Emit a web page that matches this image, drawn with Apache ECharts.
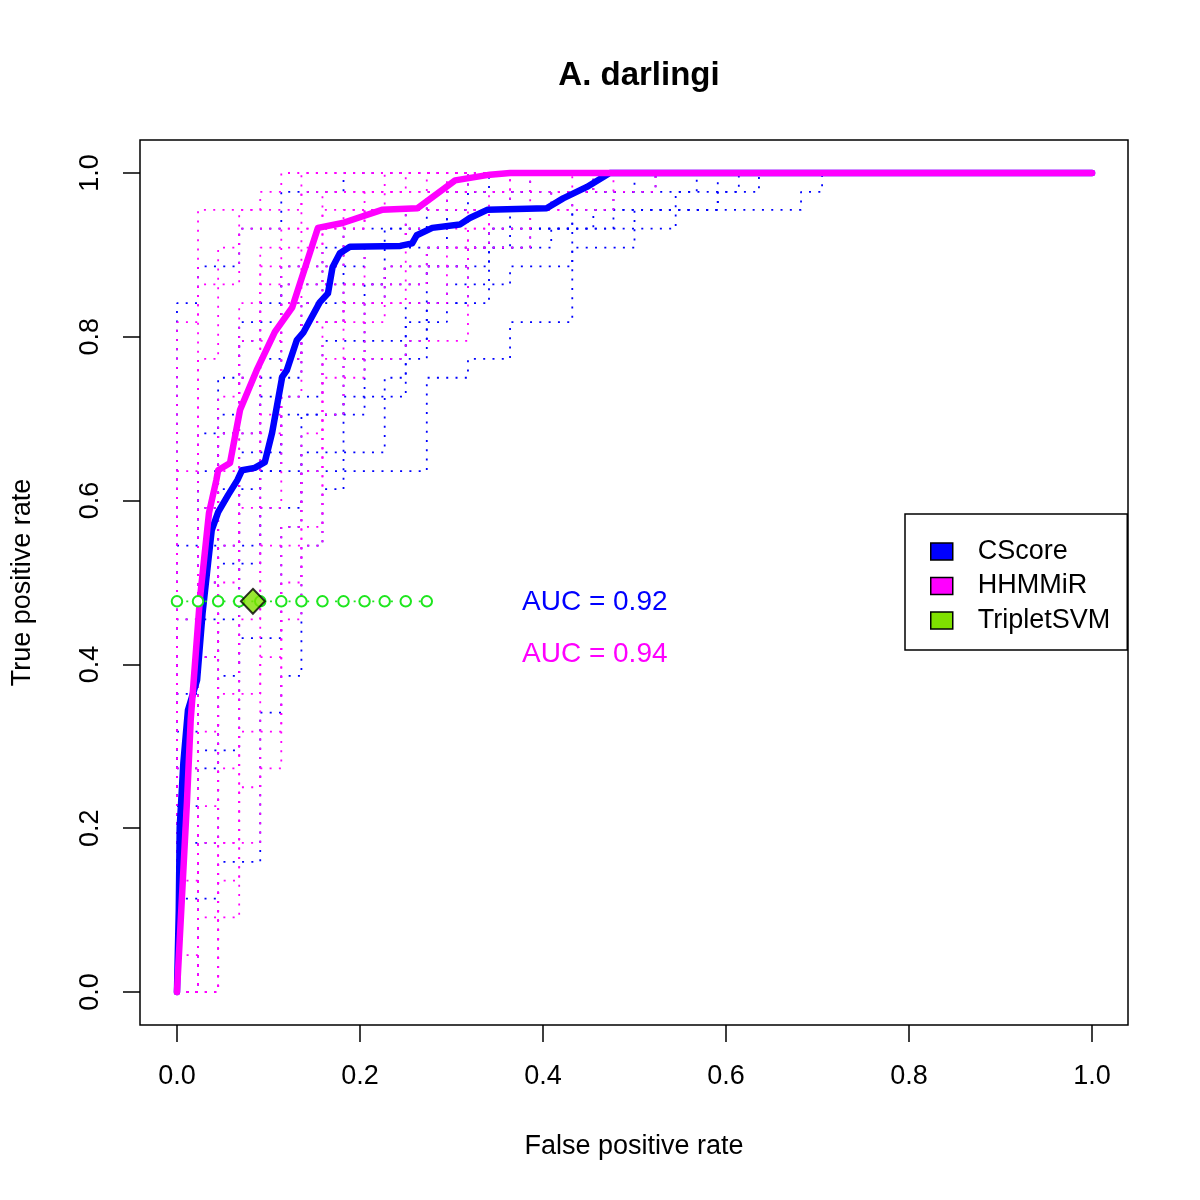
<!DOCTYPE html>
<html>
<head>
<meta charset="utf-8">
<script src="https://cdn.jsdelivr.net/npm/echarts@6/dist/echarts.min.js"></script>
<style>
html,body{margin:0;padding:0;background:#fff;}
#chart{width:1200px;height:1200px;}
</style>
</head>
<body>
<div id="chart"></div>
<script>
// ---------------- DATA ----------------
const chartTitle = 'A. darlingi';
const xAxisTitle = 'False positive rate';
const yAxisTitle = 'True positive rate';
const tickValues = [0, 0.2, 0.4, 0.6, 0.8, 1.0];
const legendNames = ['CScore', 'HHMMiR', 'TripletSVM'];
const aucLabels = ['AUC = 0.92', 'AUC = 0.94'];

// averaged ROC curves [FPR, TPR]
const cscoreMean = [[0,0],[0.002,0.1],[0.003,0.201],[0.007,0.28],[0.012,0.344],[0.022,0.381],[0.028,0.463],[0.034,0.524],[0.038,0.564],[0.045,0.586],[0.056,0.607],[0.066,0.625],[0.071,0.637],[0.085,0.64],[0.096,0.647],[0.104,0.683],[0.115,0.751],[0.12,0.759],[0.131,0.796],[0.138,0.805],[0.156,0.842],[0.165,0.853],[0.17,0.885],[0.178,0.902],[0.189,0.91],[0.244,0.911],[0.257,0.914],[0.262,0.924],[0.279,0.933],[0.309,0.937],[0.32,0.945],[0.339,0.955],[0.404,0.957],[0.422,0.969],[0.448,0.983],[0.473,1],[1,1]];
const hhmmirMean = [[0,0],[0.011,0.234],[0.015,0.332],[0.025,0.479],[0.035,0.585],[0.043,0.625],[0.045,0.637],[0.058,0.646],[0.069,0.711],[0.087,0.759],[0.107,0.806],[0.126,0.836],[0.154,0.933],[0.181,0.939],[0.224,0.955],[0.263,0.957],[0.304,0.991],[0.342,0.998],[0.364,1],[1,1]];

// per-fold ROC step curves (corner points) - HHMMiR
const hhFold1 = [[0,0],[0,0.818],[0.023,0.818],[0.023,0.955],[0.091,0.955],[0.091,0.977],[0.114,0.977],[0.114,1],[1,1]];
const hhFold2 = [[0,0],[0.045,0],[0.045,0.136],[0.068,0.136],[0.068,0.25],[0.091,0.25],[0.091,0.273],[0.114,0.273],[0.114,0.455],[0.136,0.455],[0.136,0.545],[0.159,0.545],[0.159,0.705],[0.182,0.705],[0.182,0.773],[0.25,0.773],[0.25,0.795],[0.318,0.795],[0.318,0.932],[0.386,0.932],[0.386,0.955],[0.477,0.955],[0.477,0.977],[0.523,0.977],[0.523,1],[1,1]];
const hhFold3 = [[0,0],[0,0.455],[0.023,0.455],[0.023,0.773],[0.045,0.773],[0.045,0.909],[0.068,0.909],[0.068,0.955],[0.136,0.955],[0.136,1],[1,1]];
const hhFold4 = [[0,0],[0.023,0],[0.023,0.227],[0.045,0.227],[0.045,0.545],[0.068,0.545],[0.068,0.75],[0.091,0.75],[0.091,0.864],[0.136,0.864],[0.136,0.932],[0.205,0.932],[0.205,0.977],[0.273,0.977],[0.273,1],[1,1]];
const hhFold5 = [[0,0],[0.023,0],[0.023,0.318],[0.045,0.318],[0.045,0.5],[0.068,0.5],[0.068,0.682],[0.114,0.682],[0.114,0.841],[0.159,0.841],[0.159,0.955],[0.227,0.955],[0.227,0.977],[0.318,0.977],[0.318,1],[1,1]];
const hhFold6 = [[0,0],[0,0.136],[0.023,0.136],[0.023,0.409],[0.045,0.409],[0.045,0.636],[0.091,0.636],[0.091,0.795],[0.114,0.795],[0.114,0.886],[0.182,0.886],[0.182,0.955],[0.295,0.955],[0.295,1],[1,1]];
const hhFold7 = [[0,0],[0.045,0],[0.045,0.273],[0.068,0.273],[0.068,0.455],[0.091,0.455],[0.091,0.591],[0.114,0.591],[0.114,0.727],[0.136,0.727],[0.136,0.864],[0.205,0.864],[0.205,0.909],[0.25,0.909],[0.25,0.955],[0.364,0.955],[0.364,1],[1,1]];
const hhFold8 = [[0,0],[0.023,0],[0.023,0.182],[0.068,0.182],[0.068,0.364],[0.091,0.364],[0.091,0.545],[0.136,0.545],[0.136,0.682],[0.159,0.682],[0.159,0.818],[0.227,0.818],[0.227,0.886],[0.318,0.886],[0.318,0.955],[0.409,0.955],[0.409,0.977],[0.455,0.977],[0.455,1],[1,1]];
const hhFold9 = [[0,0],[0,0.273],[0.023,0.273],[0.023,0.591],[0.045,0.591],[0.045,0.727],[0.068,0.727],[0.068,0.841],[0.091,0.841],[0.091,0.909],[0.159,0.909],[0.159,0.977],[0.227,0.977],[0.227,1],[1,1]];
const hhFold10 = [[0,0],[0.045,0],[0.045,0.091],[0.068,0.091],[0.068,0.318],[0.114,0.318],[0.114,0.5],[0.136,0.5],[0.136,0.636],[0.159,0.636],[0.159,0.773],[0.182,0.773],[0.182,0.841],[0.25,0.841],[0.25,0.932],[0.341,0.932],[0.341,0.977],[0.386,0.977],[0.386,1],[1,1]];
const hhFold11 = [[0,0],[0.023,0],[0.023,0.091],[0.045,0.091],[0.045,0.364],[0.068,0.364],[0.068,0.591],[0.091,0.591],[0.091,0.705],[0.114,0.705],[0.114,0.773],[0.136,0.773],[0.136,0.818],[0.182,0.818],[0.182,0.864],[0.273,0.864],[0.273,0.909],[0.341,0.909],[0.341,0.955],[0.432,0.955],[0.432,1],[1,1]];
const hhFold12 = [[0,0],[0,0.045],[0.023,0.045],[0.023,0.5],[0.045,0.5],[0.045,0.682],[0.068,0.682],[0.068,0.795],[0.091,0.795],[0.091,0.886],[0.114,0.886],[0.114,0.932],[0.205,0.932],[0.205,0.955],[0.273,0.955],[0.273,0.977],[0.364,0.977],[0.364,1],[1,1]];
const hhFold13 = [[0,0],[0.045,0],[0.045,0.182],[0.091,0.182],[0.091,0.409],[0.114,0.409],[0.114,0.568],[0.159,0.568],[0.159,0.75],[0.205,0.75],[0.205,0.841],[0.295,0.841],[0.295,0.909],[0.386,0.909],[0.386,0.977],[0.477,0.977],[0.477,1],[1,1]];
const hhFold14 = [[0,0],[0,0.636],[0.023,0.636],[0.023,0.864],[0.068,0.864],[0.068,0.932],[0.136,0.932],[0.136,0.977],[0.25,0.977],[0.25,1],[1,1]];

// per-fold ROC step curves (corner points) - CScore
const csFold1 = [[0,0],[0,0.841],[0.023,0.841],[0.023,0.886],[0.068,0.886],[0.068,0.932],[0.114,0.932],[0.114,0.977],[0.182,0.977],[0.182,1],[1,1]];
const csFold2 = [[0,0],[0,0.114],[0.045,0.114],[0.045,0.159],[0.091,0.159],[0.091,0.341],[0.114,0.341],[0.114,0.386],[0.136,0.386],[0.136,0.545],[0.159,0.545],[0.159,0.614],[0.182,0.614],[0.182,0.636],[0.273,0.636],[0.273,0.75],[0.318,0.75],[0.318,0.773],[0.364,0.773],[0.364,0.818],[0.432,0.818],[0.432,0.909],[0.5,0.909],[0.5,0.932],[0.545,0.932],[0.545,0.955],[0.591,0.955],[0.591,1],[1,1]];
const csFold3 = [[0,0],[0,0.227],[0.023,0.227],[0.023,0.5],[0.045,0.5],[0.045,0.682],[0.091,0.682],[0.091,0.773],[0.136,0.773],[0.136,0.841],[0.227,0.841],[0.227,0.886],[0.318,0.886],[0.318,0.909],[0.386,0.909],[0.386,0.932],[0.5,0.932],[0.5,0.955],[0.682,0.955],[0.682,0.977],[0.705,0.977],[0.705,1],[1,1]];
const csFold4 = [[0,0],[0.023,0],[0.023,0.295],[0.068,0.295],[0.068,0.432],[0.114,0.432],[0.114,0.568],[0.136,0.568],[0.136,0.659],[0.227,0.659],[0.227,0.75],[0.25,0.75],[0.25,0.841],[0.341,0.841],[0.341,0.932],[0.455,0.932],[0.455,0.955],[0.591,0.955],[0.591,0.977],[0.636,0.977],[0.636,1],[1,1]];
const csFold5 = [[0,0],[0,0.364],[0.023,0.364],[0.023,0.591],[0.045,0.591],[0.045,0.705],[0.068,0.705],[0.068,0.818],[0.114,0.818],[0.114,0.886],[0.205,0.886],[0.205,0.909],[0.295,0.909],[0.295,0.955],[0.409,0.955],[0.409,0.977],[0.523,0.977],[0.523,1],[1,1]];
const csFold6 = [[0,0],[0.023,0],[0.023,0.455],[0.045,0.455],[0.045,0.614],[0.091,0.614],[0.091,0.727],[0.159,0.727],[0.159,0.795],[0.205,0.795],[0.205,0.864],[0.273,0.864],[0.273,0.909],[0.364,0.909],[0.364,0.977],[0.455,0.977],[0.455,1],[1,1]];
const csFold7 = [[0,0],[0,0.182],[0.045,0.182],[0.045,0.386],[0.068,0.386],[0.068,0.545],[0.091,0.545],[0.091,0.636],[0.182,0.636],[0.182,0.727],[0.25,0.727],[0.25,0.818],[0.295,0.818],[0.295,0.864],[0.364,0.864],[0.364,0.886],[0.432,0.886],[0.432,0.955],[0.545,0.955],[0.545,0.977],[0.614,0.977],[0.614,1],[1,1]];
const csFold8 = [[0,0],[0,0.545],[0.023,0.545],[0.023,0.682],[0.068,0.682],[0.068,0.795],[0.091,0.795],[0.091,0.841],[0.159,0.841],[0.159,0.909],[0.25,0.909],[0.25,0.955],[0.318,0.955],[0.318,1],[1,1]];
const csFold9 = [[0,0],[0.023,0],[0.023,0.409],[0.045,0.409],[0.045,0.523],[0.091,0.523],[0.091,0.591],[0.136,0.591],[0.136,0.705],[0.182,0.705],[0.182,0.773],[0.273,0.773],[0.273,0.841],[0.318,0.841],[0.318,0.909],[0.409,0.909],[0.409,0.932],[0.477,0.932],[0.477,0.977],[0.568,0.977],[0.568,1],[1,1]];
const csFold10 = [[0,0],[0,0.273],[0.045,0.273],[0.045,0.455],[0.068,0.455],[0.068,0.636],[0.114,0.636],[0.114,0.75],[0.136,0.75],[0.136,0.818],[0.182,0.818],[0.182,0.932],[0.273,0.932],[0.273,0.977],[0.386,0.977],[0.386,1],[1,1]];
const csFold11 = [[0,0],[0,0.318],[0.023,0.318],[0.023,0.545],[0.068,0.545],[0.068,0.659],[0.114,0.659],[0.114,0.705],[0.205,0.705],[0.205,0.795],[0.273,0.795],[0.273,0.886],[0.341,0.886],[0.341,0.932],[0.432,0.932],[0.432,0.977],[0.5,0.977],[0.5,1],[1,1]];
const csFold12 = [[0,0],[0,0.455],[0.023,0.455],[0.023,0.636],[0.045,0.636],[0.045,0.75],[0.114,0.75],[0.114,0.864],[0.227,0.864],[0.227,0.932],[0.295,0.932],[0.295,0.977],[0.341,0.977],[0.341,1],[1,1]];

// TripletSVM per-fold single operating points and its mean
const tripletFolds = [[0,0.477],[0.023,0.477],[0.045,0.477],[0.068,0.477],[0.091,0.477],[0.114,0.477],[0.136,0.477],[0.159,0.477],[0.182,0.477],[0.205,0.477],[0.227,0.477],[0.25,0.477],[0.273,0.477]];
const tripletMean = [[0.083,0.477]];

// ---------------- STYLE ----------------
const BLUE = '#0000FF', MAGENTA = '#FF00FF', GREEN = '#1EE61E', LIME = '#7FE000';
const FONT = "'Liberation Sans', Arial, Helvetica, sans-serif";
const csFolds = [csFold1, csFold2, csFold3, csFold4, csFold5, csFold6, csFold7, csFold8, csFold9, csFold10, csFold11, csFold12];
const hhFolds = [hhFold1, hhFold2, hhFold3, hhFold4, hhFold5, hhFold6, hhFold7, hhFold8, hhFold9, hhFold10, hhFold11, hhFold12, hhFold13, hhFold14];

function foldSeries(name, data, color) {
  return {
    name: name, type: 'line', data: data, symbol: 'none', silent: true,
    lineStyle: { color: color, width: 1.8, type: [2, 7.3], cap: 'butt' },
    z: 2, animation: false
  };
}

const series = [];
csFolds.forEach(f => series.push(foldSeries('CScore', f, BLUE)));
hhFolds.forEach(f => series.push(foldSeries('HHMMiR', f, MAGENTA)));
series.push({
  name: 'CScore', type: 'line', data: cscoreMean, symbol: 'none', silent: true,
  lineStyle: { color: BLUE, width: 6.5, cap: 'round', join: 'round' }, z: 3, animation: false
});
series.push({
  name: 'HHMMiR', type: 'line', data: hhmmirMean, symbol: 'none', silent: true,
  lineStyle: { color: MAGENTA, width: 6.5, cap: 'round', join: 'round' }, z: 4, animation: false
});
series.push({
  name: 'TripletSVM', type: 'line', data: tripletFolds, symbol: 'emptyCircle', symbolSize: 10.5,
  silent: true, itemStyle: { color: GREEN, borderColor: GREEN, borderWidth: 2.3 },
  lineStyle: { color: GREEN, width: 1.8, type: [2, 7.3], cap: 'butt' }, z: 5, animation: false
});
series.push({
  name: 'TripletSVM', type: 'scatter', data: tripletMean, symbol: 'diamond', symbolSize: [24, 25],
  silent: true, itemStyle: { color: LIME, borderColor: '#000', borderWidth: 2 }, z: 6, animation: false
});

const chart = echarts.init(document.getElementById('chart'), null, { renderer: 'canvas' });
chart.setOption({
  backgroundColor: '#fff',
  animation: false,
  title: {
    text: chartTitle, left: 634, top: 54, textAlign: 'center',
    textStyle: { fontFamily: FONT, fontSize: 33, fontWeight: 'bold', color: '#000' }
  },
  grid: { left: 140, top: 140, width: 988, height: 885, show: true, borderColor: '#000', borderWidth: 1.5, backgroundColor: 'transparent', containLabel: false },
  xAxis: {
    type: 'value', min: -0.0404, max: 1.0393,
    name: xAxisTitle, nameLocation: 'middle', nameGap: 108,
    nameTextStyle: { fontFamily: FONT, fontSize: 27, color: '#000' },
    axisLine: { show: false, onZero: false },
    splitLine: { show: false },
    axisTick: { show: true, inside: false, length: 17, customValues: tickValues, lineStyle: { color: '#000', width: 1.5 } },
    axisLabel: { show: true, customValues: tickValues, margin: 38, fontFamily: FONT, fontSize: 27, color: '#000',
      formatter: v => v.toFixed(1) }
  },
  yAxis: {
    type: 'value', min: -0.0403, max: 1.0403,
    name: yAxisTitle, nameLocation: 'middle', nameGap: 104, nameRotate: 90,
    nameTextStyle: { fontFamily: FONT, fontSize: 27, color: '#000' },
    axisLine: { show: false, onZero: false },
    splitLine: { show: false },
    axisTick: { show: true, inside: false, length: 17, customValues: tickValues, lineStyle: { color: '#000', width: 1.5 } },
    axisLabel: { show: true, customValues: tickValues, margin: 36, rotate: 90, fontFamily: FONT, fontSize: 27, color: '#000',
      formatter: v => v.toFixed(1) }
  },
  legend: {
    show: true, orient: 'vertical', left: 905, top: 514,
    padding: [24, 17, 16, 25], itemGap: 7.5, itemWidth: 22, itemHeight: 17,
    backgroundColor: '#fff', borderColor: '#000', borderWidth: 1.5, borderRadius: 0,
    selectedMode: false,
    textStyle: { fontFamily: FONT, fontSize: 27, color: '#000', lineHeight: 27, padding: [0, 0, 0, 20] },
    data: [
      { name: legendNames[0], icon: 'rect', itemStyle: { color: BLUE, borderColor: '#000', borderWidth: 1.5 } },
      { name: legendNames[1], icon: 'rect', itemStyle: { color: MAGENTA, borderColor: '#000', borderWidth: 1.5 } },
      { name: legendNames[2], icon: 'rect', itemStyle: { color: LIME, borderColor: '#000', borderWidth: 1.5 } }
    ]
  },
  graphic: [
    { type: 'text', x: 522, y: 602, silent: true,
      style: { text: aucLabels[0], fill: BLUE, font: '28px ' + FONT, textAlign: 'left', textVerticalAlign: 'middle' } },
    { type: 'text', x: 522, y: 654, silent: true,
      style: { text: aucLabels[1], fill: MAGENTA, font: '28px ' + FONT, textAlign: 'left', textVerticalAlign: 'middle' } }
  ],
  series: series
});
</script>
</body>
</html>
